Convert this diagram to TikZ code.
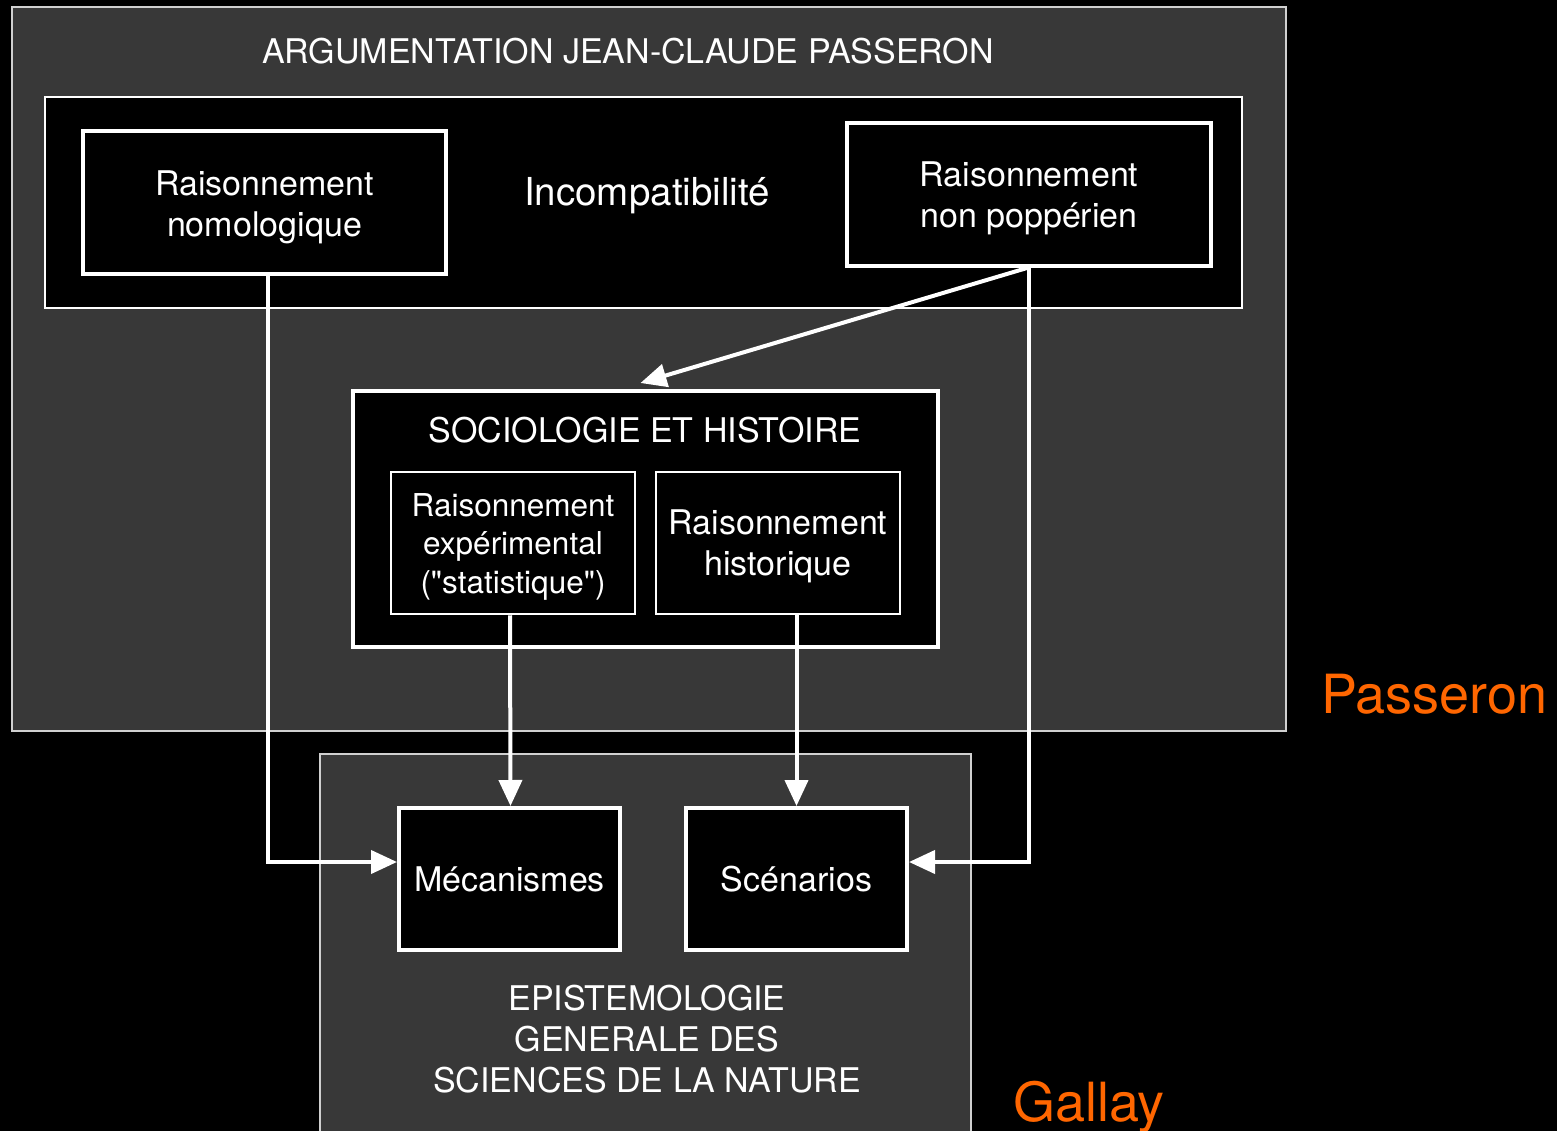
\documentclass[tikz,border=0pt]{standalone}
\usepackage{fontspec}
\setmainfont{TeX Gyre Heros}
\usetikzlibrary{arrows.meta,calc}
\definecolor{panel}{HTML}{383838}
\definecolor{panelline}{HTML}{D0D0D0}
\definecolor{accent}{HTML}{FF6600}
\newcommand\droptext[2][4pt]{\raisebox{-#1}[\height][\depth]{\begin{tabular}{@{}c@{}}#2\end{tabular}}}
\newcommand\straightquote{\XeTeXglyph\XeTeXglyphindex "quotedbl" }
\tikzset{
  panelbox/.style={draw=panelline, fill=panel, line width=2pt, rectangle, inner sep=0pt},
  blackframe/.style={draw=white, fill=black, line width=2pt, rectangle, inner sep=0pt},
  thickbox/.style={draw=white, fill=black, line width=4pt, rectangle, inner sep=0pt,
     text=white, align=center, font=\fontsize{34}{41}\selectfont},
  thinbox/.style={draw=white, fill=black, line width=2.5pt, rectangle, inner sep=0pt,
     text=white, align=center, font=\fontsize{34}{41}\selectfont},
  label/.style={text=white, align=center, font=\fontsize{34}{41}\selectfont, inner sep=0pt},
  tag/.style={text=accent, font=\fontsize{54}{60}\selectfont, inner sep=0pt, anchor=base west},
  conn/.style={draw=white, line width=4pt, -{Triangle[length=26pt,width=23pt]}}
}
\begin{document}
\begin{tikzpicture}[x=1pt,y=-1pt]
\clip (0,0) rectangle (1557,1131);
\fill[black] (0,0) rectangle (1557,1131);
% outer Passeron panel
\node[panelbox, minimum width=1274pt, minimum height=724pt] (passeron) at (649,369) {};
\node[label] (ptitle) at (628,51) {ARGUMENTATION JEAN-CLAUDE PASSERON};
\node[blackframe, minimum width=1197pt, minimum height=211pt] (inner) at (643.5,202.5) {};
\node[thickbox, minimum width=363pt, minimum height=143pt] (nomo) at (264.5,202.5) {\droptext[5pt]{Raisonnement\\nomologique}};
\node[text=white, inner sep=0pt, font=\fontsize{38.5}{44}\selectfont] (incomp) at (647,196) {Incompatibilité};
\node[thickbox, minimum width=364pt, minimum height=143pt] (popp) at (1029,194.5) {\droptext{Raisonnement\\non poppérien}};
% sociologie
\node[thickbox, minimum width=585pt, minimum height=256pt] (socio) at (645.5,519) {};
\node[label] (stitle) at (645,430) {SOCIOLOGIE ET HISTOIRE};
\node[thinbox, minimum width=244pt, minimum height=142pt, font=\fontsize{31.5}{38.5}\selectfont] (exp) at (513,543) {\droptext[4pt]{Raisonnement\\expérimental\\(\straightquote statistique\straightquote)}};
\node[thinbox, minimum width=244pt, minimum height=142pt] (hist) at (778,543) {\droptext{Raisonnement\\historique}};
% Gallay panel
\node[panelbox, minimum width=651pt, minimum height=400pt] (gallay) at (645.5,954) {};
\node[thickbox, minimum width=221pt, minimum height=142pt] (meca) at (509.5,879) {Mécanismes};
\node[thickbox, minimum width=221pt, minimum height=142pt] (scen) at (796.5,879) {Scénarios};
\node[label] (epist) at (647,1039) {EPISTEMOLOGIE\\GENERALE DES\\SCIENCES DE LA NATURE};
% tags
\node[tag] (tpass) at (1321,713) {Passeron};
\node[tag] (tgal) at (1013,1121) {Gallay};
% connectors
\draw[conn] ([xshift=-2pt]popp.south) -- ([xshift=-5pt,yshift=6pt]socio.north);
\draw[conn] ([xshift=3pt]nomo.south) |- ([yshift=17pt]meca.west);
\draw[conn] (popp.south) |- ([yshift=17pt]scen.east);
\draw[conn] ([xshift=-3pt]exp.south) -- ([xshift=1pt]meca.north);
\draw[conn] (hist.south -| scen.north) -- (scen.north);
\end{tikzpicture}
\end{document}
